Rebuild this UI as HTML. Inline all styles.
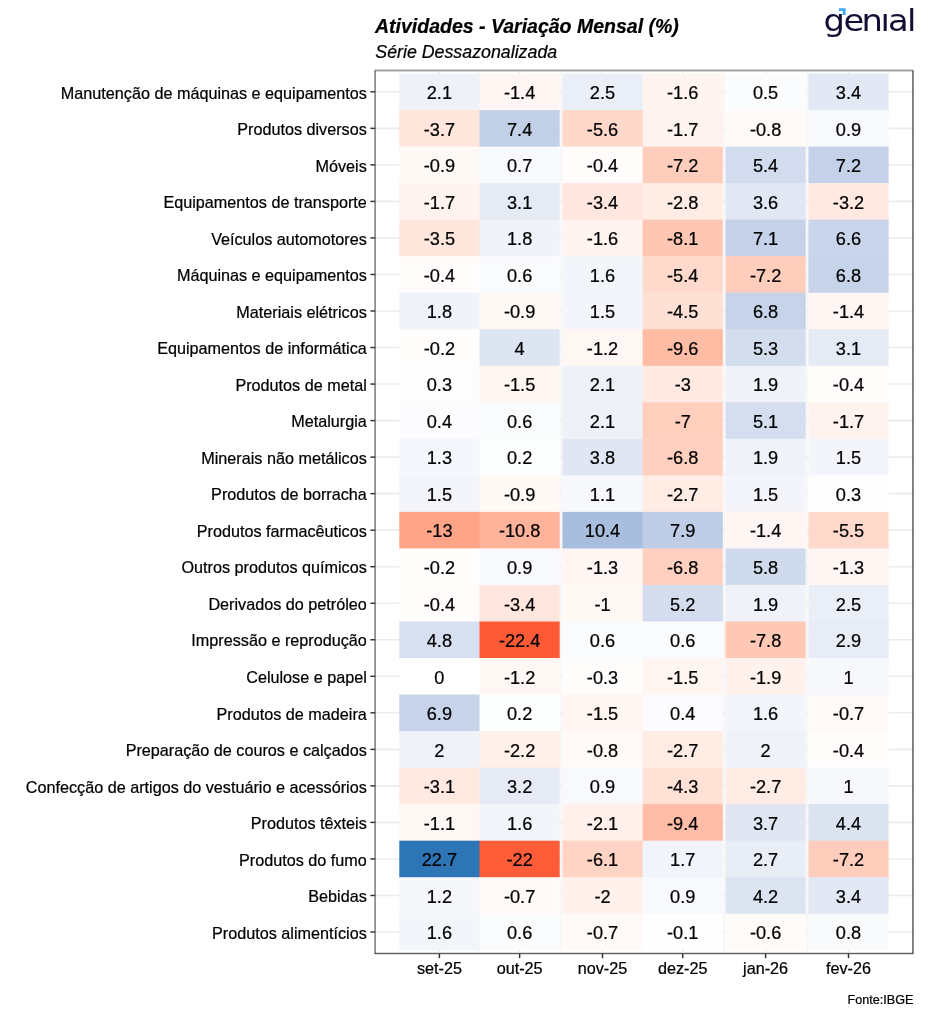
<!DOCTYPE html>
<html lang="pt-BR"><head><meta charset="utf-8"><title>Atividades - Variação Mensal (%)</title>
<style>html,body{margin:0;padding:0;background:#fff}svg{display:block}text{font-family:'Liberation Sans', sans-serif;fill:#000;stroke:#000;stroke-width:0.22px}.yl{font-size:16.2px;text-anchor:end}.xl{font-size:16.2px;text-anchor:middle}.v{font-size:18.2px;text-anchor:middle}</style></head><body>
<svg width="931" height="1024" viewBox="0 0 931 1024">
<rect width="931" height="1024" fill="#fff"/>
<g stroke="#ECECEC" stroke-width="1.6"><line x1="375.07" x2="912.95" y1="91.81" y2="91.81"/><line x1="375.07" x2="912.95" y1="128.34" y2="128.34"/><line x1="375.07" x2="912.95" y1="164.88" y2="164.88"/><line x1="375.07" x2="912.95" y1="201.41" y2="201.41"/><line x1="375.07" x2="912.95" y1="237.94" y2="237.94"/><line x1="375.07" x2="912.95" y1="274.47" y2="274.47"/><line x1="375.07" x2="912.95" y1="311.00" y2="311.00"/><line x1="375.07" x2="912.95" y1="347.53" y2="347.53"/><line x1="375.07" x2="912.95" y1="384.06" y2="384.06"/><line x1="375.07" x2="912.95" y1="420.59" y2="420.59"/><line x1="375.07" x2="912.95" y1="457.12" y2="457.12"/><line x1="375.07" x2="912.95" y1="493.65" y2="493.65"/><line x1="375.07" x2="912.95" y1="530.17" y2="530.17"/><line x1="375.07" x2="912.95" y1="566.71" y2="566.71"/><line x1="375.07" x2="912.95" y1="603.24" y2="603.24"/><line x1="375.07" x2="912.95" y1="639.76" y2="639.76"/><line x1="375.07" x2="912.95" y1="676.29" y2="676.29"/><line x1="375.07" x2="912.95" y1="712.82" y2="712.82"/><line x1="375.07" x2="912.95" y1="749.36" y2="749.36"/><line x1="375.07" x2="912.95" y1="785.88" y2="785.88"/><line x1="375.07" x2="912.95" y1="822.41" y2="822.41"/><line x1="375.07" x2="912.95" y1="858.94" y2="858.94"/><line x1="375.07" x2="912.95" y1="895.48" y2="895.48"/><line x1="375.07" x2="912.95" y1="932.00" y2="932.00"/><line x1="439.41" x2="439.41" y1="70.57" y2="953.54"/><line x1="519.62" x2="519.62" y1="70.57" y2="953.54"/><line x1="602.51" x2="602.51" y1="70.57" y2="953.54"/><line x1="682.72" x2="682.72" y1="70.57" y2="953.54"/><line x1="765.61" x2="765.61" y1="70.57" y2="953.54"/><line x1="848.50" x2="848.50" y1="70.57" y2="953.54"/></g>
<g stroke="#F2F2F2" stroke-width="1.2"><line x1="479.51" x2="479.51" y1="70.57" y2="953.54"/><line x1="561.06" x2="561.06" y1="70.57" y2="953.54"/><line x1="642.62" x2="642.62" y1="70.57" y2="953.54"/><line x1="724.17" x2="724.17" y1="70.57" y2="953.54"/><line x1="807.05" x2="807.05" y1="70.57" y2="953.54"/></g>
<g>
<rect x="399.30" y="73.55" width="80.91" height="37.23" fill="#EEF1F8"/>
<rect x="479.51" y="73.55" width="80.21" height="37.23" fill="#FFF5F2"/>
<rect x="562.40" y="73.55" width="80.91" height="37.23" fill="#EAEFF7"/>
<rect x="642.62" y="73.55" width="80.21" height="37.23" fill="#FFF4F0"/>
<rect x="725.50" y="73.55" width="80.21" height="37.23" fill="#FBFCFD"/>
<rect x="808.39" y="73.55" width="80.21" height="37.23" fill="#E3E9F4"/>
<rect x="399.30" y="110.08" width="80.91" height="37.23" fill="#FFE5DC"/>
<rect x="479.51" y="110.08" width="80.21" height="37.23" fill="#C2D0E7"/>
<rect x="562.40" y="110.08" width="80.91" height="37.23" fill="#FFD8CA"/>
<rect x="642.62" y="110.08" width="80.21" height="37.23" fill="#FFF3EF"/>
<rect x="725.50" y="110.08" width="80.21" height="37.23" fill="#FFF9F7"/>
<rect x="808.39" y="110.08" width="80.21" height="37.23" fill="#F8F9FC"/>
<rect x="399.30" y="146.61" width="80.91" height="37.23" fill="#FFF9F6"/>
<rect x="479.51" y="146.61" width="80.21" height="37.23" fill="#F9FAFD"/>
<rect x="562.40" y="146.61" width="80.91" height="37.23" fill="#FFFCFB"/>
<rect x="642.62" y="146.61" width="80.21" height="37.23" fill="#FFCDBB"/>
<rect x="725.50" y="146.61" width="80.21" height="37.23" fill="#D2DCEE"/>
<rect x="808.39" y="146.61" width="80.21" height="37.23" fill="#C4D1E8"/>
<rect x="399.30" y="183.14" width="80.91" height="37.23" fill="#FFF3EF"/>
<rect x="479.51" y="183.14" width="80.21" height="37.23" fill="#E5EBF5"/>
<rect x="562.40" y="183.14" width="80.91" height="37.23" fill="#FFE7DF"/>
<rect x="642.62" y="183.14" width="80.21" height="37.23" fill="#FFECE4"/>
<rect x="725.50" y="183.14" width="80.21" height="37.23" fill="#E1E8F3"/>
<rect x="808.39" y="183.14" width="80.21" height="37.23" fill="#FFE9E1"/>
<rect x="399.30" y="219.67" width="80.91" height="37.23" fill="#FFE7DE"/>
<rect x="479.51" y="219.67" width="80.21" height="37.23" fill="#F0F3F9"/>
<rect x="562.40" y="219.67" width="80.91" height="37.23" fill="#FFF4F0"/>
<rect x="642.62" y="219.67" width="80.21" height="37.23" fill="#FFC6B3"/>
<rect x="725.50" y="219.67" width="80.21" height="37.23" fill="#C4D1E8"/>
<rect x="808.39" y="219.67" width="80.21" height="37.23" fill="#C9D5EA"/>
<rect x="399.30" y="256.20" width="80.91" height="37.23" fill="#FFFCFB"/>
<rect x="479.51" y="256.20" width="80.21" height="37.23" fill="#FAFBFD"/>
<rect x="562.40" y="256.20" width="80.91" height="37.23" fill="#F2F5FA"/>
<rect x="642.62" y="256.20" width="80.21" height="37.23" fill="#FFD9CC"/>
<rect x="725.50" y="256.20" width="80.21" height="37.23" fill="#FFCDBB"/>
<rect x="808.39" y="256.20" width="80.21" height="37.23" fill="#C7D3E9"/>
<rect x="399.30" y="292.73" width="80.91" height="37.23" fill="#F0F3F9"/>
<rect x="479.51" y="292.73" width="80.21" height="37.23" fill="#FFF9F6"/>
<rect x="562.40" y="292.73" width="80.91" height="37.23" fill="#F3F5FA"/>
<rect x="642.62" y="292.73" width="80.21" height="37.23" fill="#FFE0D4"/>
<rect x="725.50" y="292.73" width="80.21" height="37.23" fill="#C7D3E9"/>
<rect x="808.39" y="292.73" width="80.21" height="37.23" fill="#FFF5F2"/>
<rect x="399.30" y="329.26" width="80.91" height="37.23" fill="#FFFEFD"/>
<rect x="479.51" y="329.26" width="80.21" height="37.23" fill="#DEE5F2"/>
<rect x="562.40" y="329.26" width="80.91" height="37.23" fill="#FFF7F3"/>
<rect x="642.62" y="329.26" width="80.21" height="37.23" fill="#FFBCA5"/>
<rect x="725.50" y="329.26" width="80.21" height="37.23" fill="#D3DDEE"/>
<rect x="808.39" y="329.26" width="80.21" height="37.23" fill="#E5EBF5"/>
<rect x="399.30" y="365.79" width="80.91" height="37.23" fill="#FDFDFE"/>
<rect x="479.51" y="365.79" width="80.21" height="37.23" fill="#FFF5F1"/>
<rect x="562.40" y="365.79" width="80.91" height="37.23" fill="#EEF1F8"/>
<rect x="642.62" y="365.79" width="80.21" height="37.23" fill="#FFEAE2"/>
<rect x="725.50" y="365.79" width="80.21" height="37.23" fill="#EFF3F9"/>
<rect x="808.39" y="365.79" width="80.21" height="37.23" fill="#FFFCFB"/>
<rect x="399.30" y="402.32" width="80.91" height="37.23" fill="#FCFCFE"/>
<rect x="479.51" y="402.32" width="80.21" height="37.23" fill="#FAFBFD"/>
<rect x="562.40" y="402.32" width="80.91" height="37.23" fill="#EEF1F8"/>
<rect x="642.62" y="402.32" width="80.21" height="37.23" fill="#FFCEBD"/>
<rect x="725.50" y="402.32" width="80.21" height="37.23" fill="#D5DEEF"/>
<rect x="808.39" y="402.32" width="80.21" height="37.23" fill="#FFF3EF"/>
<rect x="399.30" y="438.85" width="80.91" height="37.23" fill="#F4F7FB"/>
<rect x="479.51" y="438.85" width="80.21" height="37.23" fill="#FDFEFE"/>
<rect x="562.40" y="438.85" width="80.91" height="37.23" fill="#E0E6F3"/>
<rect x="642.62" y="438.85" width="80.21" height="37.23" fill="#FFD0BF"/>
<rect x="725.50" y="438.85" width="80.21" height="37.23" fill="#EFF3F9"/>
<rect x="808.39" y="438.85" width="80.21" height="37.23" fill="#F3F5FA"/>
<rect x="399.30" y="475.38" width="80.91" height="37.23" fill="#F3F5FA"/>
<rect x="479.51" y="475.38" width="80.21" height="37.23" fill="#FFF9F6"/>
<rect x="562.40" y="475.38" width="80.91" height="37.23" fill="#F6F8FB"/>
<rect x="642.62" y="475.38" width="80.21" height="37.23" fill="#FFECE5"/>
<rect x="725.50" y="475.38" width="80.21" height="37.23" fill="#F3F5FA"/>
<rect x="808.39" y="475.38" width="80.21" height="37.23" fill="#FDFDFE"/>
<rect x="399.30" y="511.91" width="80.91" height="37.23" fill="#FFA487"/>
<rect x="479.51" y="511.91" width="80.21" height="37.23" fill="#FFB39B"/>
<rect x="562.40" y="511.91" width="80.91" height="37.23" fill="#A9BDDE"/>
<rect x="642.62" y="511.91" width="80.21" height="37.23" fill="#BECCE6"/>
<rect x="725.50" y="511.91" width="80.21" height="37.23" fill="#FFF5F2"/>
<rect x="808.39" y="511.91" width="80.21" height="37.23" fill="#FFD9CB"/>
<rect x="399.30" y="548.44" width="80.91" height="37.23" fill="#FFFEFD"/>
<rect x="479.51" y="548.44" width="80.21" height="37.23" fill="#F8F9FC"/>
<rect x="562.40" y="548.44" width="80.91" height="37.23" fill="#FFF6F3"/>
<rect x="642.62" y="548.44" width="80.21" height="37.23" fill="#FFD0BF"/>
<rect x="725.50" y="548.44" width="80.21" height="37.23" fill="#CFDAEC"/>
<rect x="808.39" y="548.44" width="80.21" height="37.23" fill="#FFF6F3"/>
<rect x="399.30" y="584.97" width="80.91" height="37.23" fill="#FFFCFB"/>
<rect x="479.51" y="584.97" width="80.21" height="37.23" fill="#FFE7DF"/>
<rect x="562.40" y="584.97" width="80.91" height="37.23" fill="#FFF8F5"/>
<rect x="642.62" y="584.97" width="80.21" height="37.23" fill="#D4DDEE"/>
<rect x="725.50" y="584.97" width="80.21" height="37.23" fill="#EFF3F9"/>
<rect x="808.39" y="584.97" width="80.21" height="37.23" fill="#EAEFF7"/>
<rect x="399.30" y="621.50" width="80.91" height="37.23" fill="#D7E0F0"/>
<rect x="479.51" y="621.50" width="80.21" height="37.23" fill="#FF5A36"/>
<rect x="562.40" y="621.50" width="80.91" height="37.23" fill="#FAFBFD"/>
<rect x="642.62" y="621.50" width="80.21" height="37.23" fill="#FAFBFD"/>
<rect x="725.50" y="621.50" width="80.21" height="37.23" fill="#FFC9B6"/>
<rect x="808.39" y="621.50" width="80.21" height="37.23" fill="#E7ECF6"/>
<rect x="399.30" y="658.03" width="80.91" height="37.23" fill="#FFFFFF"/>
<rect x="479.51" y="658.03" width="80.21" height="37.23" fill="#FFF7F3"/>
<rect x="562.40" y="658.03" width="80.91" height="37.23" fill="#FFFDFC"/>
<rect x="642.62" y="658.03" width="80.21" height="37.23" fill="#FFF5F1"/>
<rect x="725.50" y="658.03" width="80.21" height="37.23" fill="#FFF2ED"/>
<rect x="808.39" y="658.03" width="80.21" height="37.23" fill="#F7F8FC"/>
<rect x="399.30" y="694.56" width="80.91" height="37.23" fill="#C6D3E9"/>
<rect x="479.51" y="694.56" width="80.21" height="37.23" fill="#FDFEFE"/>
<rect x="562.40" y="694.56" width="80.91" height="37.23" fill="#FFF5F1"/>
<rect x="642.62" y="694.56" width="80.21" height="37.23" fill="#FCFCFE"/>
<rect x="725.50" y="694.56" width="80.21" height="37.23" fill="#F2F5FA"/>
<rect x="808.39" y="694.56" width="80.21" height="37.23" fill="#FFFAF8"/>
<rect x="399.30" y="731.09" width="80.91" height="37.23" fill="#EFF2F9"/>
<rect x="479.51" y="731.09" width="80.21" height="37.23" fill="#FFF0EA"/>
<rect x="562.40" y="731.09" width="80.91" height="37.23" fill="#FFF9F7"/>
<rect x="642.62" y="731.09" width="80.21" height="37.23" fill="#FFECE5"/>
<rect x="725.50" y="731.09" width="80.21" height="37.23" fill="#EFF2F9"/>
<rect x="808.39" y="731.09" width="80.21" height="37.23" fill="#FFFCFB"/>
<rect x="399.30" y="767.62" width="80.91" height="37.23" fill="#FFE9E1"/>
<rect x="479.51" y="767.62" width="80.21" height="37.23" fill="#E5EAF5"/>
<rect x="562.40" y="767.62" width="80.91" height="37.23" fill="#F8F9FC"/>
<rect x="642.62" y="767.62" width="80.21" height="37.23" fill="#FFE1D6"/>
<rect x="725.50" y="767.62" width="80.21" height="37.23" fill="#FFECE5"/>
<rect x="808.39" y="767.62" width="80.21" height="37.23" fill="#F7F8FC"/>
<rect x="399.30" y="804.15" width="80.91" height="37.23" fill="#FFF7F4"/>
<rect x="479.51" y="804.15" width="80.21" height="37.23" fill="#F2F5FA"/>
<rect x="562.40" y="804.15" width="80.91" height="37.23" fill="#FFF0EB"/>
<rect x="642.62" y="804.15" width="80.21" height="37.23" fill="#FFBDA7"/>
<rect x="725.50" y="804.15" width="80.21" height="37.23" fill="#E0E7F3"/>
<rect x="808.39" y="804.15" width="80.21" height="37.23" fill="#DBE3F1"/>
<rect x="399.30" y="840.68" width="80.91" height="37.23" fill="#2E75B6"/>
<rect x="479.51" y="840.68" width="80.21" height="37.23" fill="#FF5D39"/>
<rect x="562.40" y="840.68" width="80.91" height="37.23" fill="#FFD4C5"/>
<rect x="642.62" y="840.68" width="80.21" height="37.23" fill="#F1F4FA"/>
<rect x="725.50" y="840.68" width="80.21" height="37.23" fill="#E9EDF6"/>
<rect x="808.39" y="840.68" width="80.21" height="37.23" fill="#FFCDBB"/>
<rect x="399.30" y="877.21" width="80.91" height="37.23" fill="#F5F7FB"/>
<rect x="479.51" y="877.21" width="80.21" height="37.23" fill="#FFFAF8"/>
<rect x="562.40" y="877.21" width="80.91" height="37.23" fill="#FFF1EC"/>
<rect x="642.62" y="877.21" width="80.21" height="37.23" fill="#F8F9FC"/>
<rect x="725.50" y="877.21" width="80.21" height="37.23" fill="#DCE4F2"/>
<rect x="808.39" y="877.21" width="80.21" height="37.23" fill="#E3E9F4"/>
<rect x="399.30" y="913.74" width="80.91" height="36.53" fill="#F2F5FA"/>
<rect x="479.51" y="913.74" width="80.21" height="36.53" fill="#FAFBFD"/>
<rect x="562.40" y="913.74" width="80.91" height="36.53" fill="#FFFAF8"/>
<rect x="642.62" y="913.74" width="80.21" height="36.53" fill="#FFFEFE"/>
<rect x="725.50" y="913.74" width="80.21" height="36.53" fill="#FFFBF9"/>
<rect x="808.39" y="913.74" width="80.21" height="36.53" fill="#F8FAFC"/>
</g>
<g fill="none">
<line x1="374.57" x2="913.45" y1="70.5" y2="70.5" stroke="#D6D6D6" stroke-width="3"/>
<line x1="374.57" x2="913.45" y1="70.5" y2="70.5" stroke="#9A9A9A" stroke-width="1"/>
<line x1="374.57" x2="913.45" y1="953.5" y2="953.5" stroke="#DCDCDC" stroke-width="3"/>
<line x1="374.57" x2="913.45" y1="953.5" y2="953.5" stroke="#606060" stroke-width="1"/>
<line x1="375.07" x2="375.07" y1="70.7" y2="953.6" stroke="#333" stroke-width="0.98"/>
<line x1="912.95" x2="912.95" y1="70.7" y2="953.6" stroke="#333" stroke-width="1.19"/>
</g>
<g stroke="#333" stroke-width="1.45"><line x1="370.37" x2="375.07" y1="91.81" y2="91.81"/><line x1="370.37" x2="375.07" y1="128.34" y2="128.34"/><line x1="370.37" x2="375.07" y1="164.88" y2="164.88"/><line x1="370.37" x2="375.07" y1="201.41" y2="201.41"/><line x1="370.37" x2="375.07" y1="237.94" y2="237.94"/><line x1="370.37" x2="375.07" y1="274.47" y2="274.47"/><line x1="370.37" x2="375.07" y1="311.00" y2="311.00"/><line x1="370.37" x2="375.07" y1="347.53" y2="347.53"/><line x1="370.37" x2="375.07" y1="384.06" y2="384.06"/><line x1="370.37" x2="375.07" y1="420.59" y2="420.59"/><line x1="370.37" x2="375.07" y1="457.12" y2="457.12"/><line x1="370.37" x2="375.07" y1="493.65" y2="493.65"/><line x1="370.37" x2="375.07" y1="530.17" y2="530.17"/><line x1="370.37" x2="375.07" y1="566.71" y2="566.71"/><line x1="370.37" x2="375.07" y1="603.24" y2="603.24"/><line x1="370.37" x2="375.07" y1="639.76" y2="639.76"/><line x1="370.37" x2="375.07" y1="676.29" y2="676.29"/><line x1="370.37" x2="375.07" y1="712.82" y2="712.82"/><line x1="370.37" x2="375.07" y1="749.36" y2="749.36"/><line x1="370.37" x2="375.07" y1="785.88" y2="785.88"/><line x1="370.37" x2="375.07" y1="822.41" y2="822.41"/><line x1="370.37" x2="375.07" y1="858.94" y2="858.94"/><line x1="370.37" x2="375.07" y1="895.48" y2="895.48"/><line x1="370.37" x2="375.07" y1="932.00" y2="932.00"/><line x1="439.41" x2="439.41" y1="953.54" y2="958.24"/><line x1="519.62" x2="519.62" y1="953.54" y2="958.24"/><line x1="602.51" x2="602.51" y1="953.54" y2="958.24"/><line x1="682.72" x2="682.72" y1="953.54" y2="958.24"/><line x1="765.61" x2="765.61" y1="953.54" y2="958.24"/><line x1="848.50" x2="848.50" y1="953.54" y2="958.24"/></g>
<g class="v">
<text x="439.41" y="99.11">2.1</text>
<text x="519.62" y="99.11">-1.4</text>
<text x="602.51" y="99.11">2.5</text>
<text x="682.72" y="99.11">-1.6</text>
<text x="765.61" y="99.11">0.5</text>
<text x="848.50" y="99.11">3.4</text>
<text x="439.41" y="135.65">-3.7</text>
<text x="519.62" y="135.65">7.4</text>
<text x="602.51" y="135.65">-5.6</text>
<text x="682.72" y="135.65">-1.7</text>
<text x="765.61" y="135.65">-0.8</text>
<text x="848.50" y="135.65">0.9</text>
<text x="439.41" y="172.18">-0.9</text>
<text x="519.62" y="172.18">0.7</text>
<text x="602.51" y="172.18">-0.4</text>
<text x="682.72" y="172.18">-7.2</text>
<text x="765.61" y="172.18">5.4</text>
<text x="848.50" y="172.18">7.2</text>
<text x="439.41" y="208.71">-1.7</text>
<text x="519.62" y="208.71">3.1</text>
<text x="602.51" y="208.71">-3.4</text>
<text x="682.72" y="208.71">-2.8</text>
<text x="765.61" y="208.71">3.6</text>
<text x="848.50" y="208.71">-3.2</text>
<text x="439.41" y="245.24">-3.5</text>
<text x="519.62" y="245.24">1.8</text>
<text x="602.51" y="245.24">-1.6</text>
<text x="682.72" y="245.24">-8.1</text>
<text x="765.61" y="245.24">7.1</text>
<text x="848.50" y="245.24">6.6</text>
<text x="439.41" y="281.77">-0.4</text>
<text x="519.62" y="281.77">0.6</text>
<text x="602.51" y="281.77">1.6</text>
<text x="682.72" y="281.77">-5.4</text>
<text x="765.61" y="281.77">-7.2</text>
<text x="848.50" y="281.77">6.8</text>
<text x="439.41" y="318.30">1.8</text>
<text x="519.62" y="318.30">-0.9</text>
<text x="602.51" y="318.30">1.5</text>
<text x="682.72" y="318.30">-4.5</text>
<text x="765.61" y="318.30">6.8</text>
<text x="848.50" y="318.30">-1.4</text>
<text x="439.41" y="354.83">-0.2</text>
<text x="519.62" y="354.83">4</text>
<text x="602.51" y="354.83">-1.2</text>
<text x="682.72" y="354.83">-9.6</text>
<text x="765.61" y="354.83">5.3</text>
<text x="848.50" y="354.83">3.1</text>
<text x="439.41" y="391.36">0.3</text>
<text x="519.62" y="391.36">-1.5</text>
<text x="602.51" y="391.36">2.1</text>
<text x="682.72" y="391.36">-3</text>
<text x="765.61" y="391.36">1.9</text>
<text x="848.50" y="391.36">-0.4</text>
<text x="439.41" y="427.89">0.4</text>
<text x="519.62" y="427.89">0.6</text>
<text x="602.51" y="427.89">2.1</text>
<text x="682.72" y="427.89">-7</text>
<text x="765.61" y="427.89">5.1</text>
<text x="848.50" y="427.89">-1.7</text>
<text x="439.41" y="464.42">1.3</text>
<text x="519.62" y="464.42">0.2</text>
<text x="602.51" y="464.42">3.8</text>
<text x="682.72" y="464.42">-6.8</text>
<text x="765.61" y="464.42">1.9</text>
<text x="848.50" y="464.42">1.5</text>
<text x="439.41" y="500.95">1.5</text>
<text x="519.62" y="500.95">-0.9</text>
<text x="602.51" y="500.95">1.1</text>
<text x="682.72" y="500.95">-2.7</text>
<text x="765.61" y="500.95">1.5</text>
<text x="848.50" y="500.95">0.3</text>
<text x="439.41" y="537.47">-13</text>
<text x="519.62" y="537.47">-10.8</text>
<text x="602.51" y="537.47">10.4</text>
<text x="682.72" y="537.47">7.9</text>
<text x="765.61" y="537.47">-1.4</text>
<text x="848.50" y="537.47">-5.5</text>
<text x="439.41" y="574.00">-0.2</text>
<text x="519.62" y="574.00">0.9</text>
<text x="602.51" y="574.00">-1.3</text>
<text x="682.72" y="574.00">-6.8</text>
<text x="765.61" y="574.00">5.8</text>
<text x="848.50" y="574.00">-1.3</text>
<text x="439.41" y="610.53">-0.4</text>
<text x="519.62" y="610.53">-3.4</text>
<text x="602.51" y="610.53">-1</text>
<text x="682.72" y="610.53">5.2</text>
<text x="765.61" y="610.53">1.9</text>
<text x="848.50" y="610.53">2.5</text>
<text x="439.41" y="647.06">4.8</text>
<text x="519.62" y="647.06">-22.4</text>
<text x="602.51" y="647.06">0.6</text>
<text x="682.72" y="647.06">0.6</text>
<text x="765.61" y="647.06">-7.8</text>
<text x="848.50" y="647.06">2.9</text>
<text x="439.41" y="683.59">0</text>
<text x="519.62" y="683.59">-1.2</text>
<text x="602.51" y="683.59">-0.3</text>
<text x="682.72" y="683.59">-1.5</text>
<text x="765.61" y="683.59">-1.9</text>
<text x="848.50" y="683.59">1</text>
<text x="439.41" y="720.12">6.9</text>
<text x="519.62" y="720.12">0.2</text>
<text x="602.51" y="720.12">-1.5</text>
<text x="682.72" y="720.12">0.4</text>
<text x="765.61" y="720.12">1.6</text>
<text x="848.50" y="720.12">-0.7</text>
<text x="439.41" y="756.65">2</text>
<text x="519.62" y="756.65">-2.2</text>
<text x="602.51" y="756.65">-0.8</text>
<text x="682.72" y="756.65">-2.7</text>
<text x="765.61" y="756.65">2</text>
<text x="848.50" y="756.65">-0.4</text>
<text x="439.41" y="793.18">-3.1</text>
<text x="519.62" y="793.18">3.2</text>
<text x="602.51" y="793.18">0.9</text>
<text x="682.72" y="793.18">-4.3</text>
<text x="765.61" y="793.18">-2.7</text>
<text x="848.50" y="793.18">1</text>
<text x="439.41" y="829.71">-1.1</text>
<text x="519.62" y="829.71">1.6</text>
<text x="602.51" y="829.71">-2.1</text>
<text x="682.72" y="829.71">-9.4</text>
<text x="765.61" y="829.71">3.7</text>
<text x="848.50" y="829.71">4.4</text>
<text x="439.41" y="866.24">22.7</text>
<text x="519.62" y="866.24">-22</text>
<text x="602.51" y="866.24">-6.1</text>
<text x="682.72" y="866.24">1.7</text>
<text x="765.61" y="866.24">2.7</text>
<text x="848.50" y="866.24">-7.2</text>
<text x="439.41" y="902.77">1.2</text>
<text x="519.62" y="902.77">-0.7</text>
<text x="602.51" y="902.77">-2</text>
<text x="682.72" y="902.77">0.9</text>
<text x="765.61" y="902.77">4.2</text>
<text x="848.50" y="902.77">3.4</text>
<text x="439.41" y="939.30">1.6</text>
<text x="519.62" y="939.30">0.6</text>
<text x="602.51" y="939.30">-0.7</text>
<text x="682.72" y="939.30">-0.1</text>
<text x="765.61" y="939.30">-0.6</text>
<text x="848.50" y="939.30">0.8</text>
</g>
<g class="yl">
<text x="366.8" y="98.52">Manutenção de máquinas e equipamentos</text>
<text x="366.8" y="135.04">Produtos diversos</text>
<text x="366.8" y="171.57">Móveis</text>
<text x="366.8" y="208.10">Equipamentos de transporte</text>
<text x="366.8" y="244.63">Veículos automotores</text>
<text x="366.8" y="281.17">Máquinas e equipamentos</text>
<text x="366.8" y="317.69">Materiais elétricos</text>
<text x="366.8" y="354.23">Equipamentos de informática</text>
<text x="366.8" y="390.75">Produtos de metal</text>
<text x="366.8" y="427.29">Metalurgia</text>
<text x="366.8" y="463.81">Minerais não metálicos</text>
<text x="366.8" y="500.35">Produtos de borracha</text>
<text x="366.8" y="536.88">Produtos farmacêuticos</text>
<text x="366.8" y="573.41">Outros produtos químicos</text>
<text x="366.8" y="609.94">Derivados do petróleo</text>
<text x="366.8" y="646.47">Impressão e reprodução</text>
<text x="366.8" y="683.00">Celulose e papel</text>
<text x="366.8" y="719.52">Produtos de madeira</text>
<text x="366.8" y="756.06">Preparação de couros e calçados</text>
<text x="366.8" y="792.59">Confecção de artigos do vestuário e acessórios</text>
<text x="366.8" y="829.12">Produtos têxteis</text>
<text x="366.8" y="865.64">Produtos do fumo</text>
<text x="366.8" y="902.18">Bebidas</text>
<text x="366.8" y="938.71">Produtos alimentícios</text>
</g>
<g class="xl">
<text x="439.41" y="974.2">set-25</text>
<text x="519.62" y="974.2">out-25</text>
<text x="602.51" y="974.2">nov-25</text>
<text x="682.72" y="974.2">dez-25</text>
<text x="765.61" y="974.2">jan-26</text>
<text x="848.50" y="974.2">fev-26</text>
</g>
<text x="375.0" y="32.7" style="font-size:19.5px;font-weight:bold;font-style:italic">Atividades - Variação Mensal (%)</text>
<text x="375.3" y="58.4" style="font-size:17.8px;font-style:italic">Série Dessazonalizada</text>
<text x="913.4" y="1003.7" style="font-size:12.6px;text-anchor:end">Fonte:IBGE</text>
<text x="755.50 773.76 790.46 807.71 814.68 832.11" y="31.0" transform="scale(1.09,1)" style="font-family:'DejaVu Sans','Liberation Sans',sans-serif;font-size:31px;fill:#110F33;stroke:none">genial</text>
<rect x="882.5" y="6" width="6" height="6.2" fill="#fff"/>
<path d="M838.9 8.3H845.6V15H842.7V11.1H838.9Z" fill="#3FA9F5"/>
</svg></body></html>
